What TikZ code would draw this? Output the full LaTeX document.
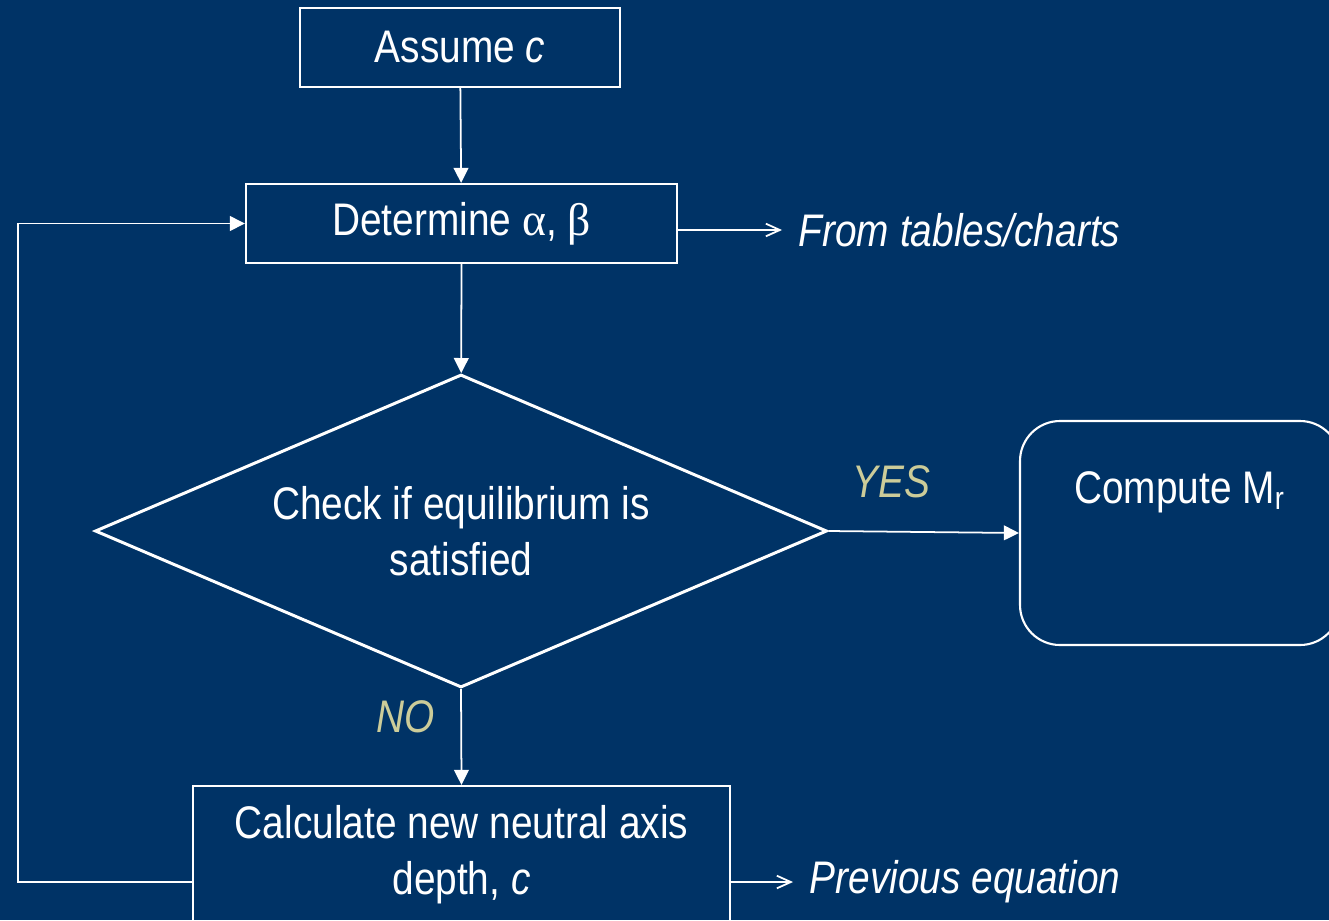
\documentclass[tikz,border=0pt]{standalone}
\usepackage{fontspec}
\setmainfont{Liberation Sans}[FakeStretch=0.85]
\newfontfamily\grk{Liberation Serif}
\usetikzlibrary{arrows.meta,shapes.geometric}
\definecolor{navy}{HTML}{003366}
\definecolor{khaki}{HTML}{CCCC99}

\begin{document}
\begin{tikzpicture}[every node/.style={text=white,font=\fontsize{13}{16}\selectfont},
  box/.style={draw=white,line width=0.6pt,minimum height=0.79cm},
  flow/.style={draw=white,line width=0.5pt,-{Triangle[length=4.3pt,width=4.2pt]}},
  side/.style={draw=white,line width=0.5pt,-{Straight Barb[length=4pt,width=3.6pt]}},
  answer/.style={text=khaki,font=\fontsize{13}{16}\selectfont\itshape},
  note/.style={anchor=west,inner sep=0.16cm,font=\fontsize{13}{16}\selectfont\itshape}]
  \useasboundingbox (0,0) rectangle (13.29,9.20);
  \fill[navy] (0,0) rectangle (13.29,9.20);
  \clip (0,0) rectangle (13.29,9.20);

  \node[box,minimum width=3.2cm] (assume) at (4.60,8.725) {Assume \textit{c}};
  \node[box,minimum width=4.31cm] (det) at (4.615,6.965) {Determine {\grk α}, {\grk β}};
  \node[draw=white,line width=0.85pt,shape=diamond,aspect=2.34,minimum width=7.32cm,
    minimum height=3.13cm,inner sep=0pt,align=center] (chk) at (4.61,3.89)
    {Check if equilibrium is\\satisfied};
  \node[draw=white,line width=0.6pt,rounded corners=0.4cm,minimum width=3.2cm,
    minimum height=2.24cm,text height=0.35cm,text depth=0.95cm] (comp) at (11.80,3.87)
    {Compute M\textsubscript{r}};
  \node[box,minimum width=5.37cm,minimum height=1.38cm,align=center] (calc) at (4.615,0.65)
    {Calculate new neutral axis\\depth, \textit{c}};
  \node[note] (tbl) at (7.82,6.90) {From tables/charts};
  \node[note] (prev) at (7.93,0.38) {Previous equation};
  \coordinate (loop) at (0.18,0);

  \draw[flow] (assume) -- (det);
  \draw[flow] (det) -- (chk);
  \draw[flow] (chk.east) -- node[answer,pos=0.33,yshift=0.5cm] {YES} (comp.west);
  \draw[flow] (chk.south) -- node[answer,pos=0.29,xshift=-0.56cm] {NO} (calc.north);
  \draw[side] (det.east |- tbl.west) -- (tbl.west);
  \draw[side] (calc.east |- prev.west) -- (prev.west);
  \draw[flow] (calc.west |- prev.west) -- (prev.west -| loop) |- (det.west);
\end{tikzpicture}
\end{document}
